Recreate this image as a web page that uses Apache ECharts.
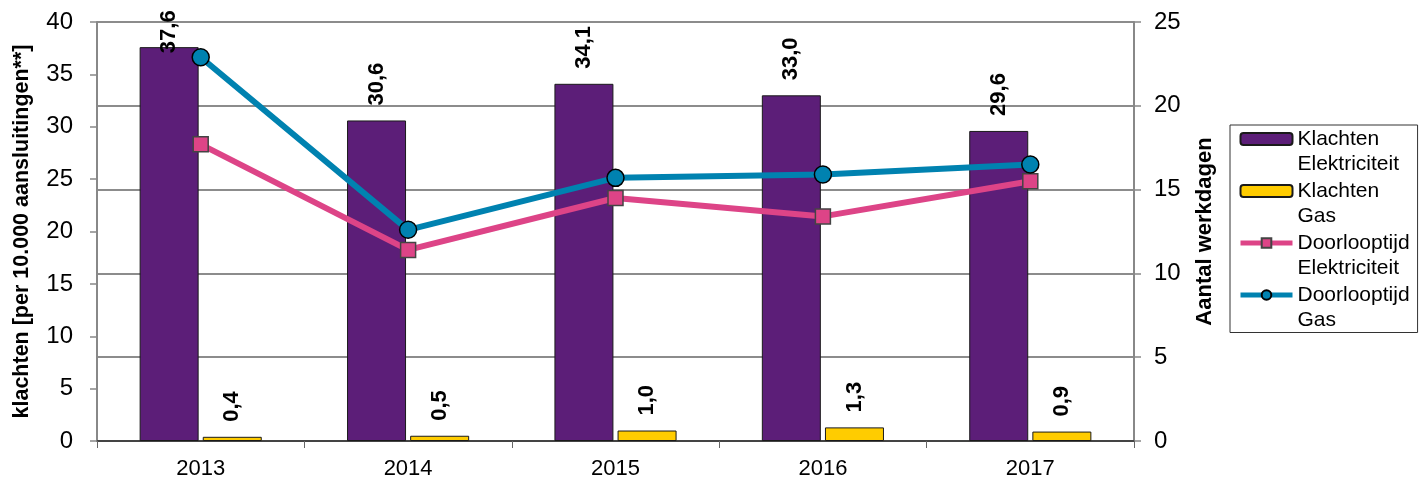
<!DOCTYPE html>
<html lang="nl">
<head>
    <meta charset="UTF-8">
    <title>Klachten en doorlooptijd</title>
    <script src="https://cdn.jsdelivr.net/npm/echarts@6/dist/echarts.min.js"></script>
    <style>
        body { margin: 0; background: #fff; overflow: hidden; }
        #container { width: 1424px; height: 483px; }
    </style>
</head>
<body>
<div id="container"></div>
<script>
    // data
    var years = ['2013', '2014', '2015', '2016', '2017'];
    var klachtenElektriciteit = [37.6, 30.6, 34.1, 33.0, 29.6];
    var klachtenGas = [0.4, 0.5, 1.0, 1.3, 0.9];
    var doorlooptijdElektriciteit = [17.7, 11.4, 14.5, 13.4, 15.5];
    var doorlooptijdGas = [22.9, 12.6, 15.7, 15.9, 16.5];
    var seriesNames = ['Klachten\nElektriciteit', 'Klachten\nGas', 'Doorlooptijd\nElektriciteit', 'Doorlooptijd\nGas'];
    var leftAxis = { min: 0, max: 40, interval: 5 };
    var rightAxis = { min: 0, max: 25, interval: 5 };

    var font = 'Liberation Sans, Arial, sans-serif';
    var fmt = function (v) { return v.toFixed(1).replace('.', ','); };

    var barLabel = {
        show: true,
        position: 'top',
        rotate: 90,
        align: 'left',
        verticalAlign: 'middle',
        distance: 15,
        fontFamily: font,
        fontSize: 22,
        fontWeight: 'bold',
        color: '#000',
        formatter: function (p) { return fmt(p.value); }
    };

    // the highest label is pushed down by the top of the chart
    var elecData = klachtenElektriciteit.map(function (v) {
        return v > 36 ? { value: v, label: { distance: -6 } } : v;
    });

    var myChart = echarts.init(document.getElementById('container'));
    var option = {
        backgroundColor: '#fff',
        animation: false,
        grid: { left: 97, right: 290, top: 22, bottom: 42 },
        legend: {
            orient: 'vertical',
            left: 1230,
            top: 125,
            // empty first text line puts the icon next to the first line of the name
            padding: [-23.5, 8, 0, 8],
            itemGap: -23,
            itemWidth: 52,
            itemHeight: 12,
            borderColor: '#333',
            borderWidth: 1,
            lineStyle: { width: 5 },
            formatter: function (name) { return '\n' + name; },
            textStyle: {
                fontFamily: font,
                fontSize: 21,
                lineHeight: 25,
                color: '#000'
            },
            data: seriesNames
        },
        xAxis: {
            type: 'category',
            data: years,
            axisLine: { lineStyle: { color: '#444', width: 2 } },
            axisTick: { show: true, length: 7, lineStyle: { color: '#666', width: 1 } },
            axisLabel: { fontFamily: font, fontSize: 22, color: '#000', margin: 17 }
        },
        yAxis: [{
            type: 'value',
            min: leftAxis.min,
            max: leftAxis.max,
            interval: leftAxis.interval,
            name: 'klachten [per 10.000 aansluitingen**]',
            nameLocation: 'middle',
            nameGap: 64,
            nameTextStyle: { fontFamily: font, fontSize: 21.5, fontWeight: 'bold', color: '#000' },
            axisLine: { show: true, lineStyle: { color: '#888', width: 2 } },
            axisTick: { show: true, length: 7, lineStyle: { color: '#888', width: 1.5 } },
            axisLabel: { fontFamily: font, fontSize: 24, color: '#000', margin: 24 },
            splitLine: { show: false }
        }, {
            type: 'value',
            position: 'right',
            min: rightAxis.min,
            max: rightAxis.max,
            interval: rightAxis.interval,
            name: 'Aantal werkdagen',
            nameLocation: 'middle',
            nameGap: 60,
            nameTextStyle: { fontFamily: font, fontSize: 22, fontWeight: 'bold', color: '#000' },
            axisLine: { show: true, lineStyle: { color: '#888', width: 2 } },
            axisTick: { show: true, length: 7, lineStyle: { color: '#888', width: 1.5 } },
            axisLabel: { fontFamily: font, fontSize: 24, color: '#000', margin: 20 },
            splitLine: { show: true, lineStyle: { color: '#8c8c8c', width: 2 } }
        }],
        series: [{
            name: seriesNames[0],
            type: 'bar',
            yAxisIndex: 0,
            data: elecData,
            barWidth: 59,
            barGap: '7%',
            itemStyle: { color: '#5c1e78', borderColor: '#1a1a1a', borderWidth: 1 },
            label: barLabel
        }, {
            name: seriesNames[1],
            type: 'bar',
            yAxisIndex: 0,
            data: klachtenGas,
            barWidth: 59,
            barGap: '7%',
            itemStyle: { color: '#ffcc00', borderColor: '#1a1a1a', borderWidth: 1 },
            label: barLabel
        }, {
            name: seriesNames[2],
            type: 'line',
            yAxisIndex: 1,
            data: doorlooptijdElektriciteit,
            symbol: 'rect',
            symbolSize: 15,
            lineStyle: { color: '#dd4487', width: 6 },
            itemStyle: { color: '#dd4487', borderColor: '#444', borderWidth: 1.5 },
            z: 5
        }, {
            name: seriesNames[3],
            type: 'line',
            yAxisIndex: 1,
            data: doorlooptijdGas,
            symbol: 'circle',
            symbolSize: 17,
            lineStyle: { color: '#0082b0', width: 6 },
            itemStyle: { color: '#0082b0', borderColor: '#000', borderWidth: 1.5 },
            z: 6
        }]
    };
    myChart.setOption(option);
</script>
</body>
</html>
